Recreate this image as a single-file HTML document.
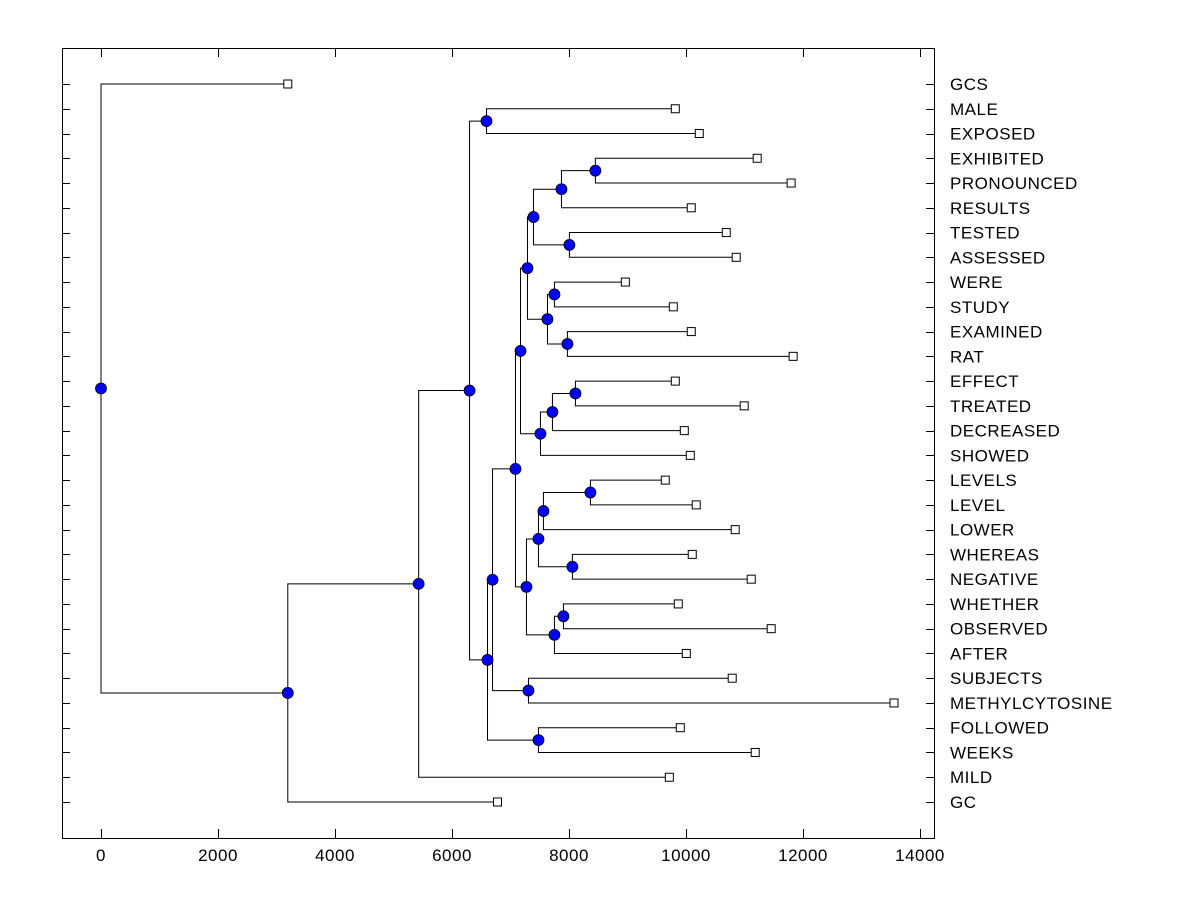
<!DOCTYPE html>
<html><head><meta charset="utf-8"><style>
html,body{margin:0;padding:0;background:#fff;}
svg text{font-family:"Liberation Sans",Arial,sans-serif;font-size:17px;letter-spacing:0.5px;fill:#000;}
</style></head><body>
<svg id="chart" width="1200" height="900" xmlns="http://www.w3.org/2000/svg">
<rect x="62.5" y="48.5" width="872" height="790" fill="none" stroke="#000" stroke-width="1"/>
<g id="ticks"></g><g id="links"></g><g id="marks"></g><g id="labels"></g>
</svg>
<script>
const leaves = ["GCS","MALE","EXPOSED","EXHIBITED","PRONOUNCED","RESULTS","TESTED","ASSESSED","WERE","STUDY","EXAMINED","RAT","EFFECT","TREATED","DECREASED","SHOWED","LEVELS","LEVEL","LOWER","WHEREAS","NEGATIVE","WHETHER","OBSERVED","AFTER","SUBJECTS","METHYLCYTOSINE","FOLLOWED","WEEKS","MILD","GC"];
const leafHeights = [3193,9817,10227,11217,11797,10090,10688,10858,8963,9783,10090,11831,9817,10995,9971,10073,9646,10175,10841,10107,11115,9868,11456,10005,10790,13556,9902,11183,9715,6778];
const merges = [
 [1,2,6590],[3,4,8451],["n1",5,7871],[6,7,8007],["n2","n3",7393],[8,9,7751],[10,11,7973],["n5","n6",7632],
 ["n4","n7",7290],[12,13,8110],["n9",14,7717],["n10",15,7512],["n8","n11",7171],[16,17,8366],["n13",18,7563],
 [19,20,8058],["n14","n15",7478],[21,22,7905],["n17",23,7751],["n16","n18",7273],["n12","n19",7085],
 [24,25,7307],["n20","n21",6693],[26,27,7478],["n22","n23",6607],["n0","n24",6300],["n25",28,5430],
 ["n26",29,3193],[0,"n27",0]
];
const xTicks = [0,2000,4000,6000,8000,10000,12000,14000];

const X0=101, XS=(920-101)/14000;
const sx = v => X0 + v*XS;
const Y0=84, YS=(802-84)/29;
const sy = i => Y0 + i*YS;
const NS="http://www.w3.org/2000/svg";
function mk(tag, attrs, parent){const e=document.createElementNS(NS,tag);for(const k in attrs)e.setAttribute(k,attrs[k]);document.getElementById(parent).appendChild(e);return e;}

xTicks.forEach(t=>{
  const x=Math.round(sx(t))+0.5;
  const a=mk('line',{x1:x,x2:x,y1:829,y2:838,stroke:'#000'},'ticks');
  
  
  const b=mk('line',{x1:x,x2:x,y1:48,y2:57,stroke:'#000'},'ticks');
  
  
  const l=mk('text',{x:sx(t),y:861,'text-anchor':'middle'},'labels');
  l.textContent=t;
  
  
});
leaves.forEach((n,i)=>{
  const y=Math.round(sy(i))+0.5;
  const a=mk('line',{x1:62,x2:70,y1:y,y2:y,stroke:'#000'},'ticks');
  
  
  const b=mk('line',{x1:926,x2:934,y1:y,y2:y,stroke:'#000'},'ticks');
  
  
  const l=mk('text',{x:950,y:sy(i)+6},'labels');
  l.textContent=n;
  
  
});

const pos = {};
leaves.forEach((n,i)=>{pos[i]={x:sx(leafHeights[i]),y:sy(i)};});
function P(c){return pos[c];}
const dots=[];
merges.forEach((m,k)=>{
  const a=P(m[0]), b=P(m[1]);
  const x=sx(m[2]), y=(a.y+b.y)/2;
  pos["n"+k]={x,y};
  const p=mk('path',{d:`M${a.x},${a.y}H${x}V${b.y}H${b.x}`,fill:'none',stroke:'#000','stroke-width':1},'links');
  
  
  dots.push({x,y});
});
leaves.forEach((n,i)=>{
  const r=mk('rect',{x:pos[i].x-4,y:pos[i].y-4,width:8,height:8,fill:'#fff',stroke:'#000'},'marks');
  
  
});
dots.forEach(d=>{
  const c=mk('circle',{cx:d.x,cy:d.y,r:5.5,fill:'#0000ff',stroke:'#000','stroke-width':0.8},'marks');
  
  
});
</script>
</body></html>
